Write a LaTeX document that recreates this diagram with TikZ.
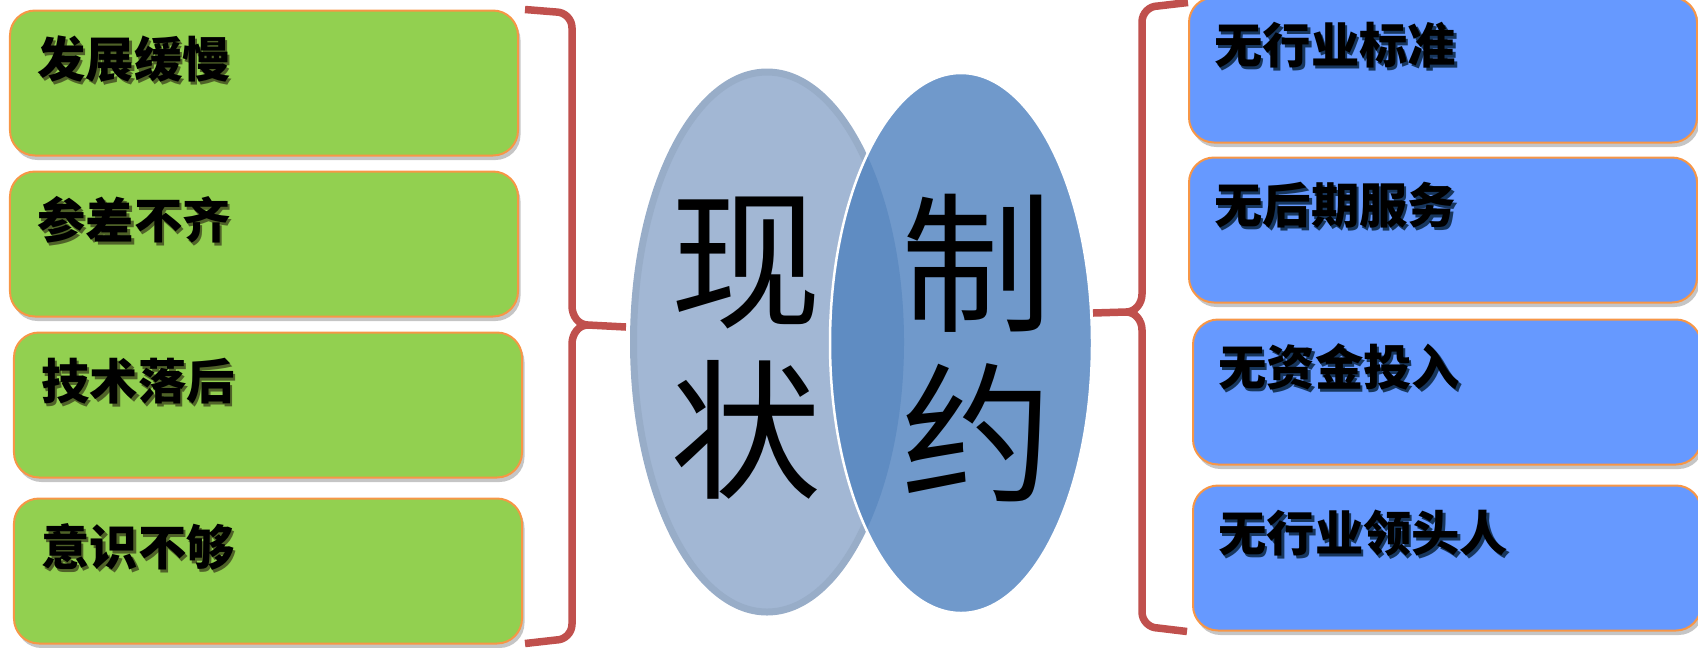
\documentclass[tikz,border=0pt]{standalone}
\usepackage{fontspec}
\newfontfamily\cjk{Noto Sans CJK SC}
\usepackage{tikz}
\usetikzlibrary{shapes.geometric}
\usetikzlibrary{calc,shadows}
\usetikzlibrary{positioning}
\definecolor{boxgreen}{HTML}{92D050}
\definecolor{boxblue}{HTML}{6699FF}
\definecolor{boxline}{HTML}{F79646}
\definecolor{bracered}{HTML}{C0504D}
\definecolor{nowfill}{HTML}{A2B7D4}
\definecolor{nowrim}{HTML}{98ADC8}
\definecolor{limfill}{HTML}{7099CB}
\definecolor{limdeep}{HTML}{5F8CC2}
\definecolor{greenshade}{HTML}{4F6228}
\definecolor{blueshade}{HTML}{17365D}
\newcommand{\shadowed}[2]{\makebox[0pt][l]{\raisebox{-0.5mm}{\hspace{0.5mm}\textcolor{#1}{#2}}}#2}

\begin{document}
\begin{tikzpicture}[x=0.2mm, y=-0.2mm,
    box/.style={rectangle, rounded corners=5mm, minimum width=101.6mm, minimum height=29mm, draw=boxline, line width=0.4mm,
        drop shadow={shadow xshift=0.5mm, shadow yshift=-0.9mm, fill=black!45, opacity=0.5}},
    tag/.style={anchor=west, inner sep=0pt, font={\cjk\bfseries\fontsize{27.5}{30}\selectfont}},
    brace/.style={draw=bracered, line width=1.5mm},
    big/.style={align=center, inner sep=0pt, font={\cjk\fontsize{86}{97}\selectfont}}]

            \useasboundingbox (0,0) rectangle (1698,647);

            \foreach \n/ \t/ \x/ \y in {1/发展缓慢/264/83, 2/参差不齐/264/244, 3/技术落后/268/405, 4/意识不够/268/571}{
                \node[box, fill=boxgreen] (L\n) at (\x,\y) {};
                \node[tag] (Lt\n) at ($(L\n.north west)+(28,51)$) {\shadowed{greenshade}{\t}};
            }

            \foreach \n/ \t/ \x/ \y in {1/无行业标准/1443/70, 2/无后期服务/1443/230, 3/无资金投入/1447/392, 4/无行业领头人/1447/558}{
                \node[box, fill=boxblue] (R\n) at (\x,\y) {};
                \node[tag] (Rt\n) at ($(R\n.north west)+(26,50)$) {\shadowed{blueshade}{\t}};
            }

            \node[ellipse, inner sep=0pt, fill=nowfill, draw=nowrim, line width=1.4mm, minimum width=53.4mm, minimum height=108mm] (now) at (767,342) {};
            \node[ellipse, inner sep=0pt, fill=limfill, minimum width=52.4mm, minimum height=108mm] (lim) at (961,343) {};
            \begin{scope}
                \clip (now.center) ellipse [x radius=27.4mm, y radius=54.7mm];
                \fill[limdeep] (lim.center) ellipse [x radius=26.2mm, y radius=54mm];
            \end{scope}
            \draw[white, line width=0.5mm] (lim.center) ellipse [x radius=26.2mm, y radius=54mm];

            \node[big] (nowtxt) at (746,348) {现\\状};
            \node[big] (limtxt) at (977,348) {制\\约};

            \coordinate (ltip) at (626,327);
            \coordinate (rtip) at (1093,313);
            \draw[brace] ($(L1.north east)+(6,0)$) -- (556,12) to[out=0,in=90] (572,28) -- (572,306) to[out=-90,in=180] (588,325) -- (ltip);
            \draw[brace] (588,325) to[out=180,in=90] (572,344) -- (572,624) to[out=-90,in=0] (556,640) -- ($(L4.south east)+(2,-1)$);
            \draw[brace] ($(R1.north west)+(0,6)$) -- (1158,6) to[out=180,in=90] (1142,22) -- (1142,294) to[out=-90,in=0] (1126,312) -- (rtip);
            \draw[brace] (1126,312) to[out=0,in=90] (1142,330) -- (1142,612) to[out=-90,in=180] (1158,628) -- ($(R4.south west)+(-5,0)$);

    \end{tikzpicture}
\end{document}
